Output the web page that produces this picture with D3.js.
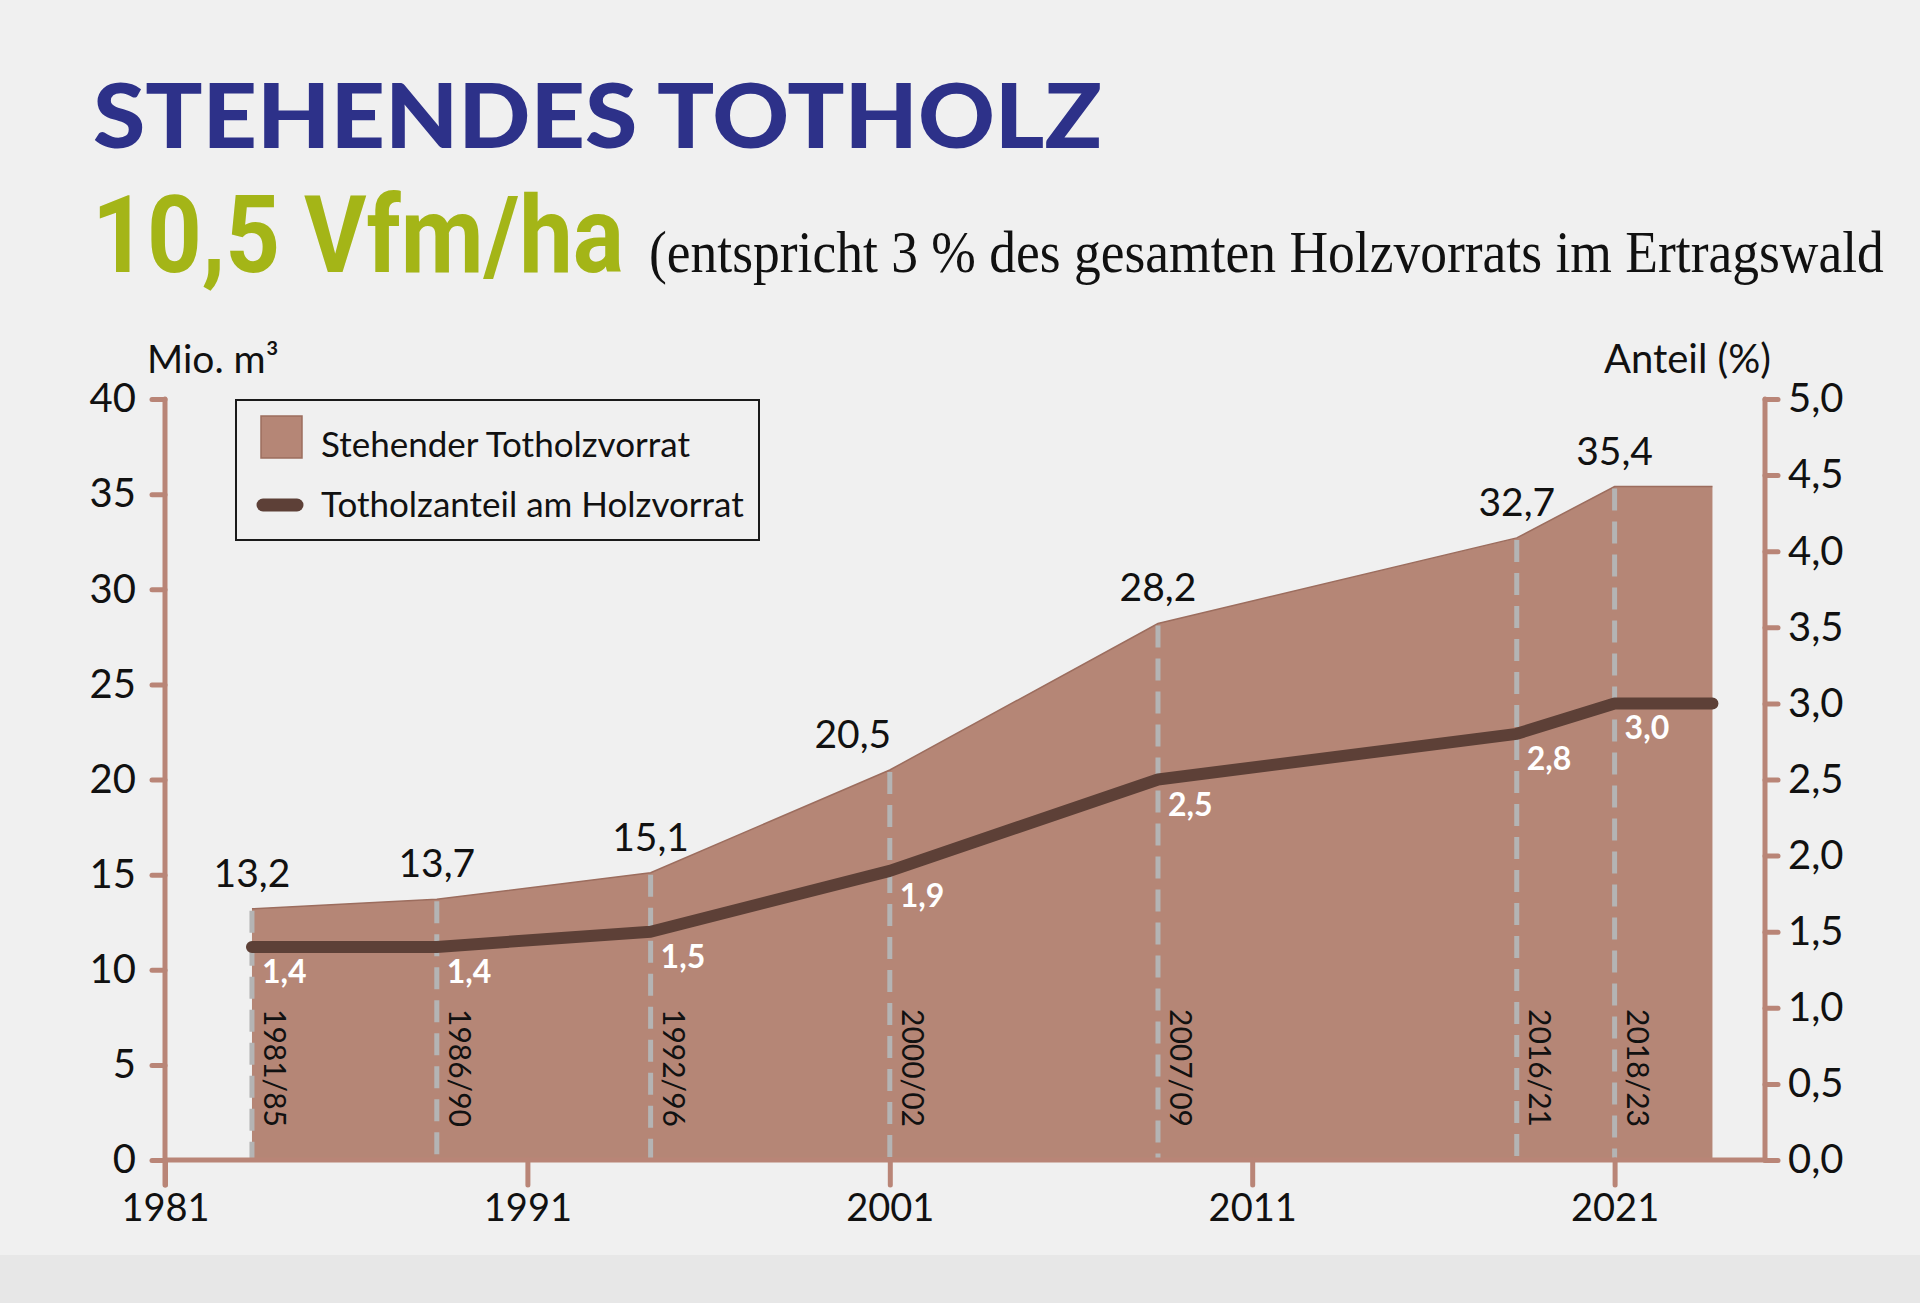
<!DOCTYPE html>
<html>
<head>
<meta charset="utf-8">
<script src="https://cdn.jsdelivr.net/npm/d3@7"></script>
<style>
  html, body { margin: 0; padding: 0; background: #f0f0f0; }
  svg { display: block; }
</style>
</head>
<body>
<svg id="chart" width="1920" height="1303"></svg>
<script>
// ---------------- DATA ----------------
const periods    = ["1981/85", "1986/90", "1992/96", "2000/02", "2007/09", "2016/21", "2018/23"];
const periodYear = [1983.4, 1988.5, 1994.4, 2001.0, 2008.4, 2018.3, 2021.0];
const vorrat     = [13.2, 13.7, 15.1, 20.5, 28.2, 32.7, 35.4];   // Mio. m³
const anteil     = [1.4, 1.4, 1.5, 1.9, 2.5, 2.8, 3.0];          // %
const endYear    = 2023.7;                                       // area/line run on flat to here
const leftTicks  = [0, 5, 10, 15, 20, 25, 30, 35, 40];
const rightTicks = [0, 0.5, 1, 1.5, 2, 2.5, 3, 3.5, 4, 4.5, 5];
const xTicks     = [1981, 1991, 2001, 2011, 2021];

const titleText    = "STEHENDES TOTHOLZ";
const kpiText      = "10,5 Vfm/ha";
const subtitleText = "(entspricht 3 % des gesamten Holzvorrats im Ertragswald";
const leftLabel    = "Mio. m³";
const rightLabel   = "Anteil (%)";
const legendItems  = ["Stehender Totholzvorrat", "Totholzanteil am Holzvorrat"];

// ---------------- STYLE ----------------
const C = {
  bg: "#f0f0f0", strip: "#e7e7e7",
  title: "#2d3189", kpi: "#a4b517",
  area: "#b58676", areaEdge: "#9c6d5e",
  axis: "#b98577", line: "#5d4037", dash: "#b4b4b4", text: "#111"
};
const FONT = "Lato, 'Noto Sans', sans-serif";

const svg = d3.select("#chart");
svg.append("rect").attr("width", 1920).attr("height", 1303).attr("fill", C.bg);
svg.append("rect").attr("y", 1255).attr("width", 1920).attr("height", 48).attr("fill", C.strip);

// ---------------- HEADINGS ----------------
svg.append("text").text(titleText)
  .attr("x", 93).attr("y", 148)
  .attr("font-family", FONT).attr("font-weight", 900).attr("font-size", 90)
  .attr("fill", C.title)
  .attr("textLength", 1009).attr("lengthAdjust", "spacingAndGlyphs");

svg.append("text").text(kpiText)
  .attr("x", 92).attr("y", 272)
  .attr("font-family", "Roboto, 'Noto Sans', sans-serif").attr("font-weight", 700).attr("font-size", 108)
  .attr("fill", C.kpi)
  .attr("textLength", 532).attr("lengthAdjust", "spacingAndGlyphs");

// subtitle: horizontally condensed serif, fitted to the reference width
const sub = svg.append("text").text(subtitleText)
  .attr("x", 0).attr("y", 0)
  .attr("font-family", "'Liberation Serif', 'DejaVu Serif', serif").attr("font-size", 60)
  .attr("fill", C.text);
const subW = sub.node().getComputedTextLength();
sub.attr("transform", `translate(649,272) scale(${Math.min(1, 1235 / subW)},1)`);

// ---------------- SCALES ----------------
const x  = d3.scaleLinear().domain([1981, 2025.15]).range([165, 1765]);
const yL = d3.scaleLinear().domain([0, 40]).range([1160, 399]);
const yR = d3.scaleLinear().domain([0, 5]).range([1160, 399]);

const pts = periods.map((p, i) => ({ p, year: periodYear[i], v: vorrat[i], a: anteil[i] }));
const ext = pts.concat([{ p: null, year: endYear, v: vorrat[vorrat.length - 1], a: anteil[anteil.length - 1] }]);

// ---------------- AREA ----------------
svg.append("path").datum(ext)
  .attr("d", d3.area().x(d => x(d.year)).y0(yL(0)).y1(d => yL(d.v)))
  .attr("fill", C.area);
svg.append("path").datum(ext)
  .attr("d", d3.line().x(d => x(d.year)).y(d => yL(d.v)))
  .attr("fill", "none").attr("stroke", C.areaEdge).attr("stroke-width", 1.5);

// dashed drop lines
svg.append("g").selectAll("line").data(pts).join("line")
  .attr("x1", d => x(d.year)).attr("x2", d => x(d.year))
  .attr("y1", d => yL(d.v) + 2).attr("y2", yL(0))
  .attr("stroke", C.dash).attr("stroke-width", 5).attr("stroke-dasharray", "22 11");

// rotated period labels
svg.append("g").selectAll("text").data(pts).join("text")
  .text(d => d.p)
  .attr("transform", d => `translate(${x(d.year) + 12},1068) rotate(90)`)
  .attr("text-anchor", "middle")
  .attr("font-family", FONT).attr("font-size", 30).attr("fill", C.text);

// ---------------- LINE ----------------
svg.append("path").datum(ext)
  .attr("d", d3.line().x(d => x(d.year)).y(d => yR(d.a)))
  .attr("fill", "none").attr("stroke", C.line).attr("stroke-width", 12)
  .attr("stroke-linecap", "round").attr("stroke-linejoin", "round");

const comma = v => d3.format(".1f")(v).replace(".", ",");

// white share labels
svg.append("g").selectAll("text").data(pts).join("text")
  .text(d => comma(d.a))
  .attr("x", d => x(d.year) + 10).attr("y", d => yR(d.a) + 36)
  .attr("font-family", FONT).attr("font-weight", 700).attr("font-size", 32).attr("fill", "#fff");

// black stock labels
const labelShift = { "2000/02": -37 };
svg.append("g").selectAll("text").data(pts).join("text")
  .text(d => comma(d.v))
  .attr("x", d => x(d.year) + (labelShift[d.p] || 0)).attr("y", d => yL(d.v) - 22)
  .attr("text-anchor", "middle")
  .attr("font-family", FONT).attr("font-size", 39).attr("fill", C.text);

// ---------------- AXES ----------------
function styleAxis(size) {
  return g => {
    g.select(".domain").remove();
    g.selectAll(".tick line").attr("stroke", C.axis).attr("stroke-width", 5).attr("stroke-linecap", "round");
    g.selectAll(".tick text").attr("fill", C.text).attr("font-family", FONT).attr("font-size", size);
  };
}

svg.append("g").attr("transform", `translate(${x(1981)},0)`)
  .call(d3.axisLeft(yL).tickValues(leftTicks).tickSize(13).tickPadding(16).tickFormat(d3.format("d")))
  .call(styleAxis(40));

svg.append("g").attr("transform", `translate(${x.range()[1]},0)`)
  .call(d3.axisRight(yR).tickValues(rightTicks).tickSize(13).tickPadding(10).tickFormat(comma))
  .call(styleAxis(40));

svg.append("g").attr("transform", `translate(0,${yL(0)})`)
  .call(d3.axisBottom(x).tickValues(xTicks).tickSize(25).tickPadding(9).tickFormat(d3.format("d")))
  .call(styleAxis(38));

// axis lines
const axisLines = [
  [x(1981), yL(40), x(1981), yL(0) + 25],
  [x.range()[1], yR(5), x.range()[1], yR(0)],
  [x(1981), yL(0), x.range()[1], yL(0)]
];
svg.append("g").selectAll("line").data(axisLines).join("line")
  .attr("x1", d => d[0]).attr("y1", d => d[1]).attr("x2", d => d[2]).attr("y2", d => d[3])
  .attr("stroke", C.axis).attr("stroke-width", 5).attr("stroke-linecap", "round");

// axis titles
svg.append("text").text(leftLabel).attr("x", 147).attr("y", 373)
  .attr("font-family", FONT).attr("font-size", 39).attr("fill", C.text);
svg.append("text").text(rightLabel).attr("x", 1771).attr("y", 373).attr("text-anchor", "end")
  .attr("font-family", FONT).attr("font-size", 40).attr("fill", C.text);

// ---------------- LEGEND ----------------
const lg = svg.append("g");
lg.append("rect").attr("x", 236).attr("y", 400).attr("width", 523).attr("height", 140)
  .attr("fill", "none").attr("stroke", "#1a1a1a").attr("stroke-width", 2);
lg.append("rect").attr("x", 261).attr("y", 416).attr("width", 41).attr("height", 42)
  .attr("fill", C.area).attr("stroke", C.areaEdge).attr("stroke-width", 1.5);
lg.append("line").attr("x1", 263).attr("x2", 297).attr("y1", 505).attr("y2", 505)
  .attr("stroke", C.line).attr("stroke-width", 13).attr("stroke-linecap", "round");
lg.selectAll("text.leg").data(legendItems).join("text").attr("class", "leg")
  .text(d => d)
  .attr("x", 321).attr("y", (d, i) => i === 0 ? 457 : 517)
  .attr("font-family", FONT).attr("font-size", 35).attr("fill", C.text);
</script>
</body>
</html>
